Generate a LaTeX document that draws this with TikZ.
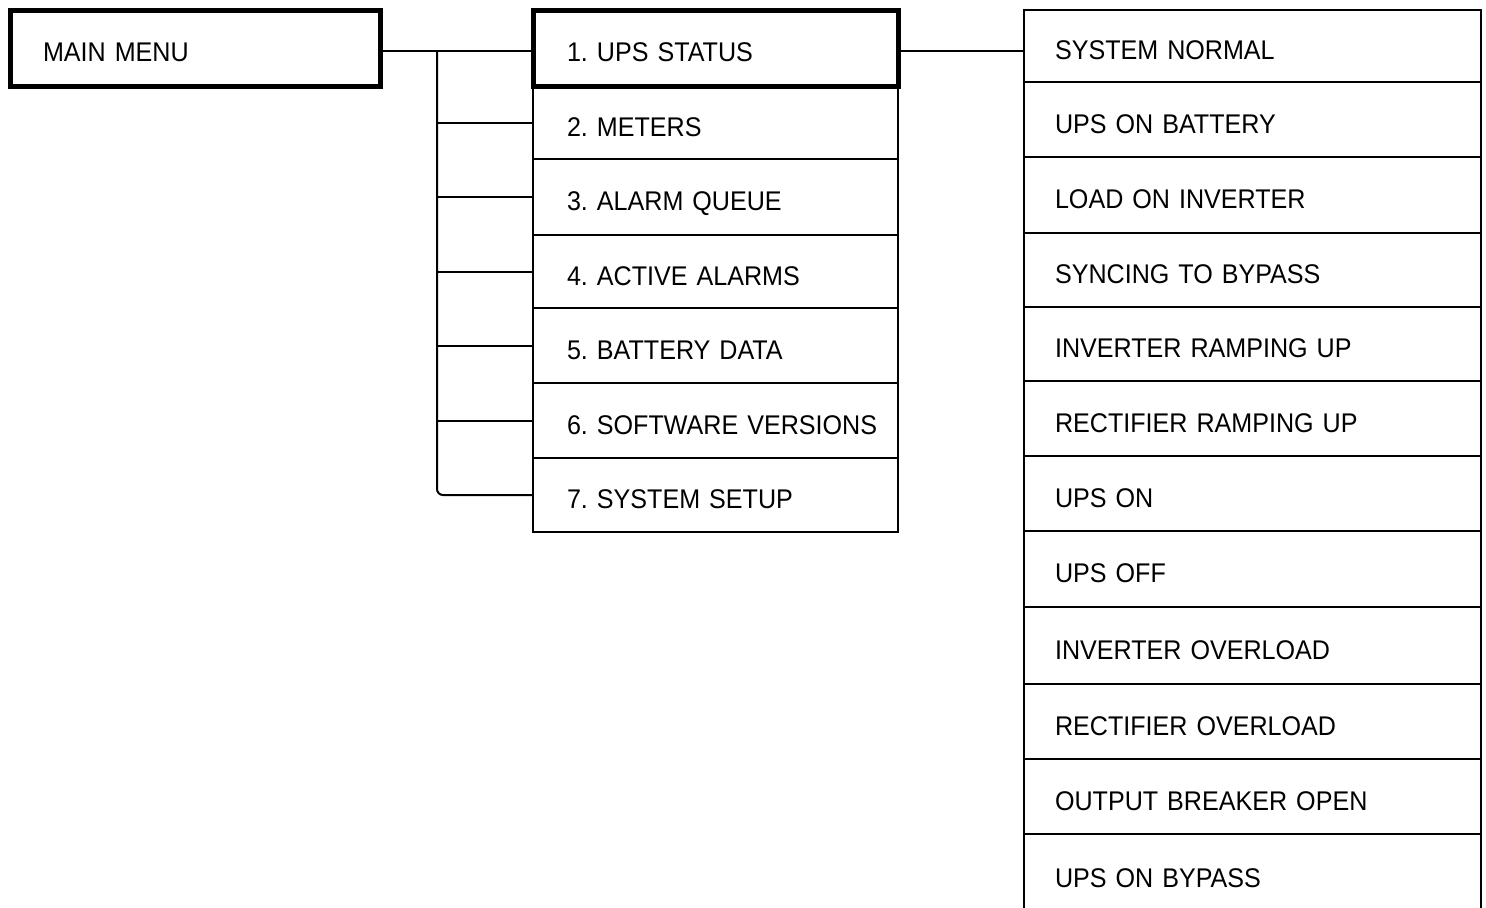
\documentclass[tikz,border=0pt]{standalone}
\usepackage{fontspec}
\setmainfont[FakeStretch=0.93]{Liberation Sans}
\begin{document}
\begin{tikzpicture}[x=0.5pt,y=-0.5pt,
  every node/.style={font=\fontsize{13.5}{16}\selectfont, inner ysep=0pt,
    text height=13.7pt, text depth=0pt, align=left,
    execute at begin node={\frenchspacing}},
  mainbox/.style={draw, line width=2.5pt, inner xsep=16.5pt, text width=152pt},
  menubox/.style={draw, line width=1pt, inner xsep=17pt, text width=148.5pt},
  statbox/.style={draw, line width=1pt, inner xsep=15.5pt, text width=197.5pt},
  wire/.style={line width=1pt}]
\clip (0,0) rectangle (1486,907);
\fill[white] (0,0) rectangle (1486,907);

% main menu
\node[mainbox, minimum height=38pt] (menu) at (195,48) {MAIN MENU};

% menu items
\node[menubox, minimum height=36.5pt] (m2) at (715.5,122.5) {2. METERS};
\node[menubox, minimum height=38pt]   (m3) at (715.5,197)   {3. ALARM QUEUE};
\node[menubox, minimum height=36.5pt] (m4) at (715.5,271.5) {4. ACTIVE ALARMS};
\node[menubox, minimum height=37.5pt] (m5) at (715.5,345.5) {5. BATTERY DATA};
\node[menubox, minimum height=37.5pt] (m6) at (715.5,420.5) {\mbox{6. SOFTWARE VERSIONS}};
\node[menubox, minimum height=37pt]   (m7) at (715.5,495)   {7. SYSTEM SETUP};
\node[menubox, line width=2.5pt, minimum height=38pt] (m1) at (715.5,48) {1. UPS STATUS};

% status messages
\node[statbox, minimum height=36pt]   (r1)  at (1252.5,46)    {SYSTEM NORMAL};
\node[statbox, minimum height=37.5pt] (r2)  at (1252.5,119.5) {UPS ON BATTERY};
\node[statbox, minimum height=38pt]   (r3)  at (1252.5,195)   {LOAD ON INVERTER};
\node[statbox, minimum height=37pt]   (r4)  at (1252.5,270)   {SYNCING TO BYPASS};
\node[statbox, minimum height=37pt]   (r5)  at (1252.5,344)   {INVERTER RAMPING UP};
\node[statbox, minimum height=37.5pt] (r6)  at (1252.5,418.5) {RECTIFIER RAMPING UP};
\node[statbox, minimum height=37.5pt] (r7)  at (1252.5,493.5) {UPS ON};
\node[statbox, minimum height=38pt]   (r8)  at (1252.5,569)   {UPS OFF};
\node[statbox, minimum height=38.5pt] (r9)  at (1252.5,645.5) {INVERTER OVERLOAD};
\node[statbox, minimum height=37.5pt] (r10) at (1252.5,721.5) {RECTIFIER OVERLOAD};
\node[statbox, minimum height=37.5pt] (r11) at (1252.5,796.5) {OUTPUT BREAKER OPEN};
\node[statbox, minimum height=40pt]   (r12) at (1252.5,874)   {UPS ON BYPASS};

% connectors
\coordinate (j) at (437,51);
\draw[wire] (menu.east |- j) -- (m1.west |- j);
\draw[wire, rounded corners=3pt] (j) |- (m7.west);
\foreach \n in {m2,m3,m4,m5,m6}
  \draw[wire] (j |- \n.west) -- (\n.west);
\draw[wire] (m1.east |- j) -- (r1.west |- j);
\end{tikzpicture}
\end{document}
